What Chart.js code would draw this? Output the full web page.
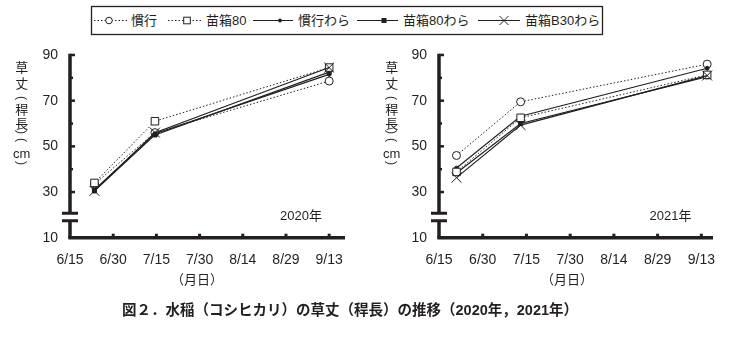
<!DOCTYPE html>
<html><head><meta charset="utf-8">
<script src="https://cdn.jsdelivr.net/npm/chart.js@4"></script>
<style>
html,body{margin:0;padding:0;background:#fff;}
#wrap{position:relative;width:746px;height:337px;overflow:hidden;font-family:"Liberation Sans","Noto Sans CJK JP",sans-serif;color:#231f20;}
canvas{position:absolute;left:0;top:0;}
.t{position:absolute;white-space:nowrap;transform:translate(-50%,-50%);line-height:1;}
.l{position:absolute;white-space:nowrap;line-height:1;}
</style></head>
<body><div id="wrap">
<canvas id="c1" width="746" height="337"></canvas>
<canvas id="c2" width="746" height="337"></canvas>
<svg id="leg" width="746" height="40" style="position:absolute;left:0;top:0"></svg>
</div>
<script>
// ---------- data ----------
const seriesNames = ['慣行','苗箱80','慣行わら','苗箱80わら','苗箱B30わら'];
const xTickLabels = ['6/15','6/30','7/15','7/30','8/14','8/29','9/13'];
const yMinorTicks = [40,60,80];
const days2020 = [8.5, 29.5, 90];
const days2021 = [6, 28, 92];
const kanko2020      = [33.5, 56, 78.6];
const naebako80_2020 = [34, 61, 84.5];
const kankoWara2020  = [31, 55.5, 81.5];
const nae80Wara2020  = [30.5, 55, 82.5];
const naeB30Wara2020 = [30.5, 56, 84.5];
const kanko2021      = [46, 69.5, 86];
const naebako80_2021 = [38.8, 62.5, 81.3];
const kankoWara2021  = [40.5, 63.2, 84.2];
const nae80Wara2021  = [38.3, 60, 80.5];
const naeB30Wara2021 = [36.3, 59.3, 81];
const yearLabels = ['2020年','2021年'];

const INK = '#231f20';
const styles = [
  {pointStyle:'circle', pointRadius:4, bg:'#fff', dash:[1.5,2], lw:1, order:4},
  {pointStyle:'rect', pointRadius:5.3, bg:'#fff', dash:[1.5,2], lw:1, order:1},
  {pointStyle:'circle', pointRadius:1.9, bg:INK, dash:[], lw:1.2, order:2},
  {pointStyle:'rect', pointRadius:2.9, bg:INK, dash:[], lw:1.2, order:3},
  {pointStyle:'crossRot', pointRadius:7, bg:INK, dash:[], lw:1.2, order:0}
];

function makeDatasets(days, arrs){
  return arrs.map((vals,k)=>({
    label: seriesNames[k],
    data: days.map((d,i)=>({x:d,y:vals[i]})),
    order: styles[k].order,
    borderColor: INK, borderWidth: styles[k].lw, borderDash: styles[k].dash,
    pointStyle: styles[k].pointStyle, pointRadius: styles[k].pointRadius,
    pointBackgroundColor: styles[k].bg, pointBorderColor: INK, pointBorderWidth: 1,
    tension: 0, fill:false
  }));
}

const axisPlugin = {
  id:'axisDeco',
  afterDraw(chart, args, opts){
    const {ctx, chartArea:{left,right,top,bottom}, scales:{x,y}} = chart;
    ctx.save();
    ctx.strokeStyle = INK; ctx.fillStyle = INK; ctx.lineCap='butt';
    const yb1 = y.getPixelForValue(opts.breakHi), yb2 = y.getPixelForValue(opts.breakLo);
    ctx.lineWidth = 3.5;
    ctx.beginPath();
    ctx.moveTo(left, top-1.2); ctx.lineTo(left, yb1);
    ctx.moveTo(left, yb2); ctx.lineTo(left, bottom);
    ctx.stroke();
    ctx.beginPath(); ctx.moveTo(left-1.75, bottom); ctx.lineTo(right, bottom); ctx.stroke();
    ctx.lineWidth = 3;
    ctx.beginPath();
    ctx.moveTo(left-8, yb1); ctx.lineTo(left+8, yb1);
    ctx.moveTo(left-8, yb2); ctx.lineTo(left+8, yb2);
    ctx.stroke();
    // y ticks (inward)
    ctx.lineWidth = 2.5;
    y.ticks.forEach(t=>{ if(t.value>y.min){ const p=y.getPixelForValue(t.value); ctx.beginPath(); ctx.moveTo(left, p); ctx.lineTo(left+5, p); ctx.stroke(); }});
    yMinorTicks.forEach(v=>{ const p=y.getPixelForValue(v); ctx.beginPath(); ctx.moveTo(left, p); ctx.lineTo(left+3, p); ctx.stroke(); });
    // x ticks (inward bumps)
    x.ticks.forEach(t=>{ if(t.value>0 && t.value%15===0){ const p=x.getPixelForValue(t.value); ctx.fillRect(p-1.5, bottom-4, 3, 3); }});
    ctx.restore();
  }
};

function makeChart(id, days, arrs, area, xmax){
  const W=746,H=337, yW=70, xH=40;
  return new Chart(document.getElementById(id), {
    type:'line',
    data:{datasets: makeDatasets(days, arrs)},
    options:{
      responsive:false, animation:false, devicePixelRatio:1,
      layout:{padding:{left:area.left-yW, right:W-area.right, top:area.top, bottom:H-area.bottom-xH}},
      plugins:{legend:{display:false}, tooltip:{enabled:false}, axisDeco:{breakHi:20.7, breakLo:17.4}},
      scales:{
        x:{type:'linear', min:0, max:xmax,
           grid:{display:false, drawTicks:false}, border:{display:false},
           afterFit(s){ s.height = xH; },
           ticks:{stepSize:15, includeBounds:false, autoSkip:false, maxRotation:0, padding:14, color:INK,
                  font:{family:'"Liberation Sans", sans-serif', size:14},
                  callback:(v)=> (v%15===0 && xTickLabels[v/15]!==undefined) ? xTickLabels[v/15] : ''}},
        y:{type:'linear', min:10, max:90,
           grid:{display:false, drawTicks:false}, border:{display:false},
           afterFit(s){ s.width = yW; },
           ticks:{stepSize:20, padding:12, color:INK,
                  font:{family:'"Liberation Sans", sans-serif', size:14}}}
      }
    },
    plugins:[axisPlugin]
  });
}

makeChart('c1', days2020, [kanko2020, naebako80_2020, kankoWara2020, nae80Wara2020, naeB30Wara2020], {left:70, right:345, top:55, bottom:237.7}, 95.5);
makeChart('c2', days2021, [kanko2021, naebako80_2021, kankoWara2021, nae80Wara2021, naeB30Wara2021], {left:439, right:713, top:55, bottom:237.7}, 94);

// ---------- texts ----------
const wrap = document.getElementById('wrap');
function addText(txt, x, y, css, cls){
  const d=document.createElement('div'); d.className=cls||'t'; d.textContent=txt;
  d.style.left=x+'px'; d.style.top=y+'px'; Object.assign(d.style, css||{}); wrap.appendChild(d); return d;
}
const cjk = {fontFamily:'"Liberation Sans","Noto Sans CJK JP",sans-serif', fontSize:'13px'};
[[0,21.7],[1,391.7]].forEach(([k,cx])=>{
  const chars = [['草',66.7],['丈',83],['(',98,1],['稈',108.5],['長',122.5],[')',132,1],['(',140,1],['cm',153],[')',163,1]];
  chars.forEach(([c,y,rot])=>{
    const d=addText(c, cx, y, Object.assign({}, cjk));
    if(rot){ d.style.transform='translate(-50%,-50%) rotate(90deg)'; d.style.fontSize='12px'; }
  });
  addText('（月日）', k===0?197:567, 279, Object.assign({}, cjk));
  addText(yearLabels[k], k===0?301:670.5, 215, Object.assign({}, cjk));
});
addText('図２．水稲（コシヒカリ）の草丈（稈長）の推移（2020年，2021年）', 122, 303,
  {fontFamily:'"Liberation Sans","Noto Sans CJK JP",sans-serif', fontSize:'14.5px', fontWeight:'bold'}, 'l');

// ---------- legend ----------
const svg=document.getElementById('leg');
const NS='http://www.w3.org/2000/svg';
function el(tag, attrs){ const e=document.createElementNS(NS,tag); for(const k in attrs) e.setAttribute(k,attrs[k]); svg.appendChild(e); return e; }
el('rect',{x:91.5,y:6.5,width:511,height:28,fill:'#fff',stroke:INK,'stroke-width':1.3});
const ly=20.5;
const items=[{x1:94,x2:127,m:109,tx:131},{x1:168,x2:203,m:187,tx:206},{x1:253,x2:293,m:280,tx:298},{x1:357,x2:398,m:384,tx:403},{x1:478,x2:520,m:504,tx:525}];
items.forEach((it,k)=>{
  const ln=el('line',{x1:it.x1,y1:ly,x2:it.x2,y2:ly,stroke:INK,'stroke-width':styles[k].lw});
  if(styles[k].dash.length) ln.setAttribute('stroke-dasharray','1.5 2');
  if(k===0) el('circle',{cx:it.m,cy:ly,r:3.3,fill:'#fff',stroke:INK,'stroke-width':1});
  if(k===1) el('rect',{x:it.m-3.3,y:ly-3.3,width:6.6,height:6.6,fill:'#fff',stroke:INK,'stroke-width':1});
  if(k===2) el('circle',{cx:it.m,cy:ly,r:1.9,fill:INK});
  if(k===3) el('rect',{x:it.m-2.5,y:ly-2.5,width:5,height:5,fill:INK});
  if(k===4){ el('line',{x1:it.m-4.5,y1:ly-4.5,x2:it.m+4.5,y2:ly+4.5,stroke:INK,'stroke-width':1}); el('line',{x1:it.m-4.5,y1:ly+4.5,x2:it.m+4.5,y2:ly-4.5,stroke:INK,'stroke-width':1}); }
  const t=el('text',{x:it.tx,y:ly+4.6,'font-size':13,'font-family':'Liberation Sans, Noto Sans CJK JP, sans-serif',fill:INK});
  t.textContent=seriesNames[k];
});
</script>
</body></html>
